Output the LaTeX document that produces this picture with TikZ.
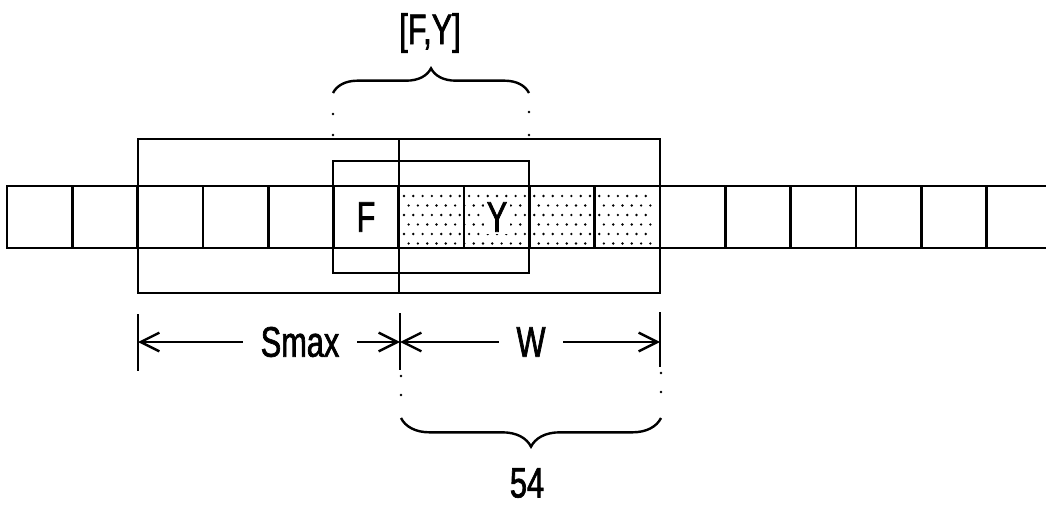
\documentclass[tikz,border=0pt]{standalone}
\usepackage{fontspec}
\setmainfont{Liberation Sans}[FakeStretch=0.72,FakeBold=1.6]
\usetikzlibrary{arrows.meta,decorations.pathreplacing}

\tikzset{every picture/.style={line width=0.75pt}}
\tikzset{
  lbl/.style={font=\fontsize{32}{38}\selectfont, inner sep=0pt},
  dimlbl/.style={lbl, inner xsep=13pt},
  dimarrow/.style={line width=1.4pt, -{Straight Barb[length=14pt,width=14pt,line width=1.8pt]}},
  cellline/.style={line width=2pt},
  frameline/.style={line width=1.5pt},
  bracepath/.style={line width=1.8pt, decorate},
}

\begin{document}
\begin{tikzpicture}[x=0.75pt,y=0.75pt,yscale=-1,xscale=1]
\useasboundingbox (0,0) rectangle (1046,506);

%Pattern: stipple of the window cells
\foreach \r in {0,...,5}
  \foreach \c in {0,...,26}
    \fill ({404+9.3*\c+4.6*mod(\r,2)},{196+9.5*\r}) circle [radius=1pt];

%Shape: Row of cells
\draw [cellline] (1046,186) -- (7,186) -- (7,248) -- (1046,248) ;
\foreach \i in {1,...,15}
  \draw [cellline] ({7+65.3*\i},186) -- ({7+65.3*\i},248) ;

%Shape: Rectangle (Smax and W)
\draw [frameline] (138,139) rectangle (660,293) ;
\draw [frameline] (399,139) -- (399,293) ;
%Shape: Rectangle (F,Y)
\draw [frameline] (333,161) rectangle (529,273) ;

% Text Node
\node [lbl] (cellF) at (366,217) {F};
% Text Node
\node [lbl, fill=white, inner sep=2pt] (cellY) at (497,217) {Y};

%Shape: Brace top
\draw [bracepath, decoration={brace, amplitude=18.5pt}] (333,93) -- (529,93) ;
\fill (333,114) circle [radius=1.1pt] (333,135) circle [radius=1.1pt] ;
\fill (529,112) circle [radius=1.1pt] (529,135) circle [radius=1.1pt] ;
% Text Node
\node [lbl] (pairFY) at (430,33) {[F,Y]};

%Shape: Dimension ticks
\draw [cellline] (138,314) -- (138,371) ;
\draw [cellline] (400,313) -- (400,370) ;
\draw [cellline] (660,312) -- (660,367) ;
\coordinate (tickL) at (138,342) ;
\coordinate (tickM) at (400,342) ;
\coordinate (tickR) at (660,342) ;

% Text Node
\node [dimlbl] (smax) at (300,342) {Smax};
% Text Node
\node [dimlbl] (wlen) at (531,342) {W};

\draw [dimarrow] (smax) -- (tickL) ;
\draw [dimarrow] (smax) -- (tickM) ;
\draw [dimarrow] (wlen) -- (tickM) ;
\draw [dimarrow] (wlen) -- (tickR) ;

%Shape: Brace bottom
\fill (401,376) circle [radius=1.1pt] (401,395) circle [radius=1.1pt] ;
\fill (661,373) circle [radius=1.1pt] (661,392) circle [radius=1.1pt] ;
\draw [bracepath, decoration={brace, amplitude=21.5pt}] (661,418) -- (401,418) ;
% Text Node
\node [lbl] (ref54) at (527,483) {54};

\end{tikzpicture}
\end{document}
